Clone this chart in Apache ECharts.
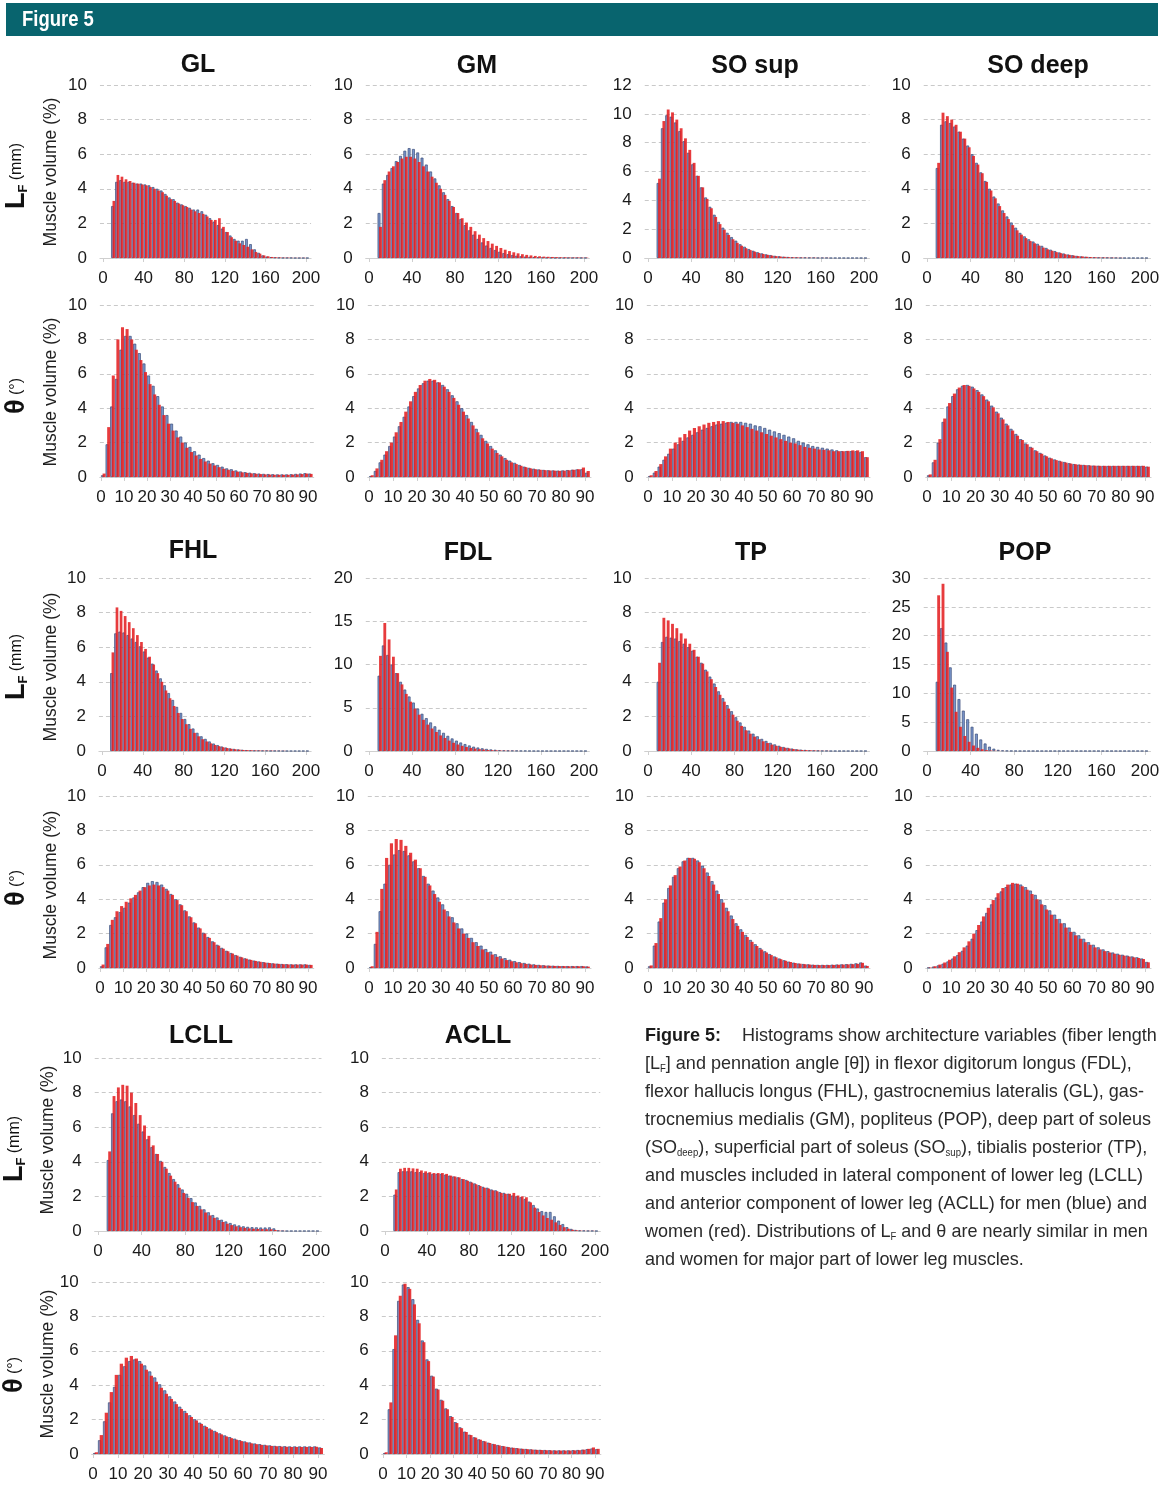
<!DOCTYPE html>
<html><head><meta charset="utf-8">
<script src="https://cdn.jsdelivr.net/npm/echarts@6/dist/echarts.min.js"></script>
<style>html,body{margin:0;padding:0;background:#fff}#c{width:1163px;height:1485px}</style>
</head><body><div id="c"></div><script>
// ---------- DATA ----------
const muscles = ['GL','GM','SO sup','SO deep','FHL','FDL','TP','POP','LCLL','ACLL'];
const lfBins = [10,14,18,22,26,30,34,38,42,46,50,54,58,62,66,70,74,78,82,86,90,94,98,102,106,110,114,118,122,126,130,134,138,142,146,150,154,158,162,166,170,174,178,182,186,190,194,198,202];
const thetaBins = [1,3,5,7,9,11,13,15,17,19,21,23,25,27,29,31,33,35,37,39,41,43,45,47,49,51,53,55,57,59,61,63,65,67,69,71,73,75,77,79,81,83,85,87,89,91];
const lfTicks = [0,40,80,120,160,200];
const thetaTicks = [0,10,20,30,40,50,60,70,80,90];
const lfYMax = [10,10,12,10,10,20,10,30,10,10];
const lfYStep = [2,2,2,2,2,5,2,5,2,2];

const glLfMen = [3.0,4.4,4.5,4.4,4.4,4.35,4.3,4.3,4.25,4.2, 4.1,4.0,3.9,3.7,3.5,3.4,3.2,3.1,3.0,2.9, 2.8,2.8,2.7,2.5,2.3,2.1,1.9,1.7,1.5,1.3, 1.1,1.0,1.0,1.1,0.8,0.5,0.3,0.15,0.08,0.05, 0.03,0.02,0.01,0.01,0.01,0,0,0,0];
const glLfWomen = [3.3,4.8,4.7,4.55,4.45,4.35,4.3,4.25,4.2,4.1, 4.0,3.9,3.8,3.6,3.4,3.3,3.15,3.05,2.95,2.8, 2.7,2.6,2.55,2.4,2.2,2.2,2.3,1.8,1.5,1.2, 1.0,0.85,0.75,0.65,0.5,0.35,0.25,0.15,0.1,0.06, 0.04,0.03,0.02,0.02,0.01,0.01,0.01,0.01,0];
const glThetaMen = [0.1,1.9,4.1,5.7,7.4,8.2,8.2,7.75,7.2,6.6, 5.9,5.3,4.7,4.1,3.6,3.1,2.7,2.35,2.0,1.75, 1.5,1.3,1.1,0.95,0.8,0.7,0.6,0.5,0.45,0.38, 0.32,0.28,0.25,0.22,0.2,0.18,0.17,0.16,0.15,0.15, 0.15,0.16,0.18,0.2,0.22,0.2];
const glThetaWomen = [0.2,2.9,5.9,8.0,8.7,8.6,8.0,7.4,6.8,6.1, 5.4,4.8,4.2,3.6,3.1,2.7,2.3,2.0,1.7,1.45, 1.25,1.05,0.9,0.78,0.67,0.57,0.48,0.42,0.36,0.31, 0.27,0.24,0.21,0.19,0.17,0.15,0.14,0.13,0.13,0.13, 0.13,0.14,0.15,0.17,0.2,0.18];

const gmLfMen = [2.6,4.3,4.8,5.2,5.6,5.9,6.2,6.35,6.3,6.1, 5.8,5.4,5.0,4.6,4.2,3.8,3.4,3.0,2.6,2.25, 1.9,1.6,1.35,1.1,0.9,0.72,0.58,0.46,0.36,0.28, 0.22,0.17,0.13,0.1,0.08,0.06,0.05,0.04,0.03,0.02, 0.02,0.01,0.01,0.01,0.01,0.01,0.01,0.01,0.01];
const gmLfWomen = [1.8,4.5,5.0,5.3,5.55,5.75,5.85,5.85,5.75,5.55, 5.3,5.0,4.7,4.35,4.0,3.65,3.3,2.95,2.6,2.3, 2.05,1.8,1.55,1.35,1.15,0.98,0.83,0.7,0.58,0.48, 0.4,0.33,0.27,0.22,0.18,0.15,0.12,0.1,0.08,0.07, 0.06,0.05,0.04,0.04,0.03,0.03,0.03,0.02,0.02];
const gmThetaMen = [0.05,0.35,0.85,1.3,1.8,2.35,2.95,3.5,4.1,4.7, 5.15,5.45,5.6,5.6,5.5,5.35,5.1,4.75,4.4,4.0, 3.6,3.2,2.8,2.45,2.1,1.8,1.55,1.3,1.1,0.95, 0.82,0.7,0.6,0.53,0.48,0.44,0.41,0.39,0.38,0.37, 0.38,0.4,0.42,0.44,0.45,0.25];
const gmThetaWomen = [0.1,0.5,1.0,1.5,2.0,2.6,3.2,3.8,4.4,4.95, 5.35,5.6,5.7,5.65,5.5,5.25,4.95,4.6,4.2,3.8, 3.4,3.0,2.6,2.25,1.95,1.65,1.4,1.2,1.0,0.85, 0.75,0.65,0.57,0.5,0.45,0.42,0.4,0.38,0.37,0.36, 0.37,0.39,0.42,0.45,0.55,0.35];

const soSupLfMen = [5.2,9.0,9.9,9.8,9.4,8.8,8.1,7.3,6.5,5.7, 4.9,4.2,3.55,3.0,2.5,2.1,1.75,1.45,1.2,0.95, 0.78,0.62,0.5,0.4,0.32,0.25,0.2,0.15,0.12,0.09, 0.07,0.05,0.04,0.03,0.03,0.02,0.02,0.01,0.01,0.01, 0,0,0,0,0,0,0,0,0];
const soSupLfWomen = [5.5,9.5,10.3,10.1,9.6,9.0,8.3,7.5,6.6,5.7, 4.9,4.1,3.45,2.85,2.35,1.95,1.6,1.3,1.05,0.85, 0.68,0.55,0.44,0.35,0.28,0.22,0.17,0.13,0.1,0.08, 0.06,0.05,0.04,0.03,0.02,0.02,0.02,0.01,0.01,0.01, 0,0,0,0,0,0,0,0,0];
const soSupThetaMen = [0.05,0.25,0.6,1.0,1.35,1.65,1.9,2.1,2.3,2.45, 2.6,2.75,2.85,2.95,3.05,3.1,3.15,3.2,3.2,3.2, 3.15,3.1,3.0,2.95,2.85,2.75,2.65,2.55,2.45,2.35, 2.25,2.1,2.0,1.9,1.8,1.75,1.7,1.65,1.6,1.55, 1.5,1.5,1.5,1.5,1.45,1.15];
const soSupThetaWomen = [0.1,0.35,0.75,1.2,1.65,2.0,2.3,2.5,2.7,2.85, 2.95,3.05,3.15,3.2,3.25,3.25,3.2,3.15,3.1,3.0, 2.9,2.8,2.7,2.6,2.5,2.4,2.3,2.2,2.1,2.0, 1.95,1.85,1.75,1.7,1.65,1.6,1.58,1.55,1.5,1.5, 1.5,1.52,1.55,1.55,1.5,1.15];

const soDeepLfMen = [5.2,7.7,7.9,7.8,7.6,7.3,6.9,6.5,6.0,5.5, 4.95,4.45,4.0,3.55,3.15,2.75,2.4,2.05,1.75,1.45, 1.25,1.08,0.95,0.82,0.7,0.58,0.48,0.4,0.32,0.26, 0.2,0.16,0.12,0.09,0.07,0.05,0.04,0.03,0.02,0.02, 0.01,0.01,0,0,0,0,0,0,0];
const soDeepLfWomen = [5.5,8.4,8.2,8.0,7.7,7.3,6.9,6.4,5.9,5.4, 4.9,4.4,3.9,3.45,3.0,2.6,2.25,1.9,1.6,1.35, 1.15,0.98,0.85,0.72,0.6,0.5,0.42,0.34,0.28,0.22, 0.18,0.14,0.11,0.09,0.07,0.05,0.04,0.03,0.03,0.02, 0.02,0.01,0.01,0,0,0,0,0,0];
const soDeepThetaMen = [0.1,0.85,2.0,3.2,4.1,4.7,5.1,5.3,5.35,5.25, 5.05,4.8,4.5,4.15,3.8,3.45,3.1,2.8,2.5,2.2, 1.95,1.75,1.55,1.4,1.25,1.12,1.02,0.94,0.87,0.8, 0.75,0.72,0.7,0.68,0.66,0.65,0.64,0.64,0.64,0.64, 0.64,0.64,0.64,0.64,0.64,0.6];
const soDeepThetaWomen = [0.15,1.0,2.2,3.4,4.3,4.85,5.2,5.35,5.3,5.15, 4.95,4.7,4.4,4.05,3.7,3.35,3.0,2.7,2.4,2.15, 1.9,1.7,1.5,1.35,1.2,1.08,0.98,0.9,0.84,0.78, 0.74,0.71,0.69,0.67,0.66,0.65,0.65,0.65,0.65,0.65, 0.65,0.65,0.65,0.65,0.65,0.6];

const fhlLfMen = [4.5,6.8,6.9,6.85,6.7,6.5,6.3,6.05,5.75,5.4, 5.05,4.65,4.2,3.8,3.35,2.95,2.55,2.2,1.85,1.55, 1.3,1.05,0.85,0.7,0.55,0.43,0.34,0.26,0.2,0.15, 0.12,0.09,0.07,0.05,0.04,0.03,0.03,0.02,0.02,0.01, 0.01,0.01,0,0,0,0,0,0,0];
const fhlLfWomen = [5.7,8.3,8.1,7.8,7.45,7.1,6.7,6.3,5.9,5.45, 5.0,4.5,4.0,3.5,3.05,2.6,2.2,1.85,1.55,1.28, 1.05,0.85,0.68,0.55,0.44,0.35,0.28,0.22,0.17,0.13, 0.1,0.08,0.06,0.05,0.04,0.03,0.03,0.02,0.02,0.02, 0.01,0.01,0.01,0,0,0,0,0,0];
const fhlThetaMen = [0.1,1.2,2.5,2.95,3.25,3.5,3.8,4.1,4.4,4.7, 4.95,5.05,5.0,4.85,4.6,4.3,4.0,3.7,3.35,3.0, 2.65,2.35,2.05,1.8,1.55,1.35,1.17,1.0,0.87,0.75, 0.65,0.56,0.49,0.43,0.38,0.34,0.3,0.27,0.25,0.23, 0.22,0.21,0.21,0.21,0.21,0.18];
const fhlThetaWomen = [0.2,1.4,2.8,3.3,3.6,3.85,4.05,4.25,4.5,4.7, 4.8,4.85,4.8,4.7,4.5,4.25,3.95,3.65,3.3,2.95, 2.6,2.3,2.0,1.75,1.5,1.3,1.12,0.97,0.84,0.72, 0.62,0.54,0.47,0.41,0.36,0.32,0.29,0.26,0.24,0.22, 0.21,0.2,0.2,0.2,0.2,0.18];

const fdlLfMen = [8.7,12.2,11.1,10.0,9.0,8.0,7.1,6.3,5.6,4.9, 4.3,3.8,3.3,2.85,2.45,2.1,1.75,1.45,1.2,0.98, 0.8,0.64,0.5,0.4,0.31,0.24,0.18,0.14,0.1,0.07, 0.05,0.04,0.03,0.02,0.02,0.01,0,0,0,0, 0,0,0,0,0,0,0,0,0];
const fdlLfWomen = [11.0,14.8,12.9,10.9,9.0,7.7,6.6,5.7,4.9,4.2, 3.6,3.05,2.6,2.2,1.8,1.5,1.2,0.95,0.75,0.6, 0.46,0.36,0.28,0.21,0.16,0.12,0.09,0.07,0.05,0.04, 0.03,0.02,0.01,0,0,0,0,0,0,0, 0,0,0,0,0,0,0,0,0];
const fdlThetaMen = [0.05,1.4,3.3,4.9,6.0,6.6,6.85,6.8,6.55,6.2, 5.8,5.35,4.9,4.5,4.1,3.7,3.3,2.95,2.6,2.3, 2.0,1.75,1.5,1.3,1.1,0.95,0.8,0.68,0.57,0.48, 0.4,0.34,0.29,0.25,0.21,0.18,0.16,0.14,0.13,0.12, 0.11,0.11,0.11,0.11,0.11,0.09];
const fdlThetaWomen = [0.1,2.1,4.6,6.4,7.25,7.5,7.45,7.1,6.7,6.3, 5.8,5.3,4.8,4.3,3.85,3.4,3.0,2.65,2.3,2.0, 1.75,1.5,1.28,1.08,0.92,0.78,0.65,0.55,0.46,0.39, 0.33,0.28,0.24,0.2,0.18,0.16,0.14,0.13,0.12,0.11, 0.11,0.1,0.1,0.1,0.1,0.08];

const tpLfMen = [4.0,6.3,6.6,6.55,6.5,6.35,6.2,6.0,5.8,5.45, 5.1,4.7,4.3,3.9,3.45,3.05,2.65,2.3,1.95,1.65, 1.4,1.18,1.0,0.85,0.7,0.58,0.47,0.38,0.3,0.23, 0.18,0.14,0.1,0.08,0.06,0.04,0.03,0.02,0.01,0.01, 0,0,0,0,0,0,0,0,0];
const tpLfWomen = [5.1,7.7,7.55,7.35,7.1,6.8,6.5,6.2,5.85,5.45, 5.05,4.6,4.15,3.7,3.25,2.85,2.45,2.1,1.75,1.45, 1.2,1.0,0.83,0.68,0.56,0.46,0.37,0.3,0.24,0.19, 0.15,0.11,0.08,0.06,0.05,0.04,0.03,0.02,0.01,0.01, 0,0,0,0,0,0,0,0,0];
const tpThetaMen = [0.1,1.3,2.7,3.8,4.65,5.3,5.8,6.2,6.4,6.4, 6.25,5.95,5.55,5.05,4.5,4.0,3.5,3.05,2.6,2.25, 1.92,1.63,1.38,1.16,0.97,0.81,0.67,0.55,0.45,0.37, 0.31,0.26,0.23,0.21,0.19,0.18,0.18,0.18,0.19,0.2, 0.21,0.22,0.24,0.27,0.32,0.14];
const tpThetaWomen = [0.15,1.45,2.9,4.0,4.8,5.4,5.9,6.25,6.4,6.35, 6.15,5.8,5.35,4.85,4.3,3.8,3.3,2.85,2.45,2.1, 1.8,1.52,1.28,1.07,0.9,0.75,0.62,0.51,0.42,0.35, 0.29,0.25,0.22,0.2,0.18,0.17,0.17,0.17,0.18,0.19, 0.2,0.21,0.22,0.24,0.3,0.12];

const popLfMen = [12.0,21.3,18.8,14.5,11.5,9.0,7.0,5.5,4.2,3.0, 2.0,1.3,0.75,0.4,0.2,0.08,0.04,0.02,0.01,0, 0,0,0,0,0,0,0,0,0,0, 0,0,0,0,0,0,0,0,0,0, 0,0,0,0,0,0,0,0,0];
const popLfWomen = [27.0,29.0,17.2,11.0,6.8,4.2,2.6,1.6,0.95,0.55, 0.3,0.15,0.08,0.04,0.02,0.01,0,0,0,0, 0,0,0,0,0,0,0,0,0,0, 0,0,0,0,0,0,0,0,0,0, 0,0,0,0,0,0,0,0,0];
const popThetaMen = [0.02,0.08,0.15,0.25,0.38,0.55,0.75,1.0,1.3,1.7, 2.2,2.7,3.2,3.7,4.1,4.45,4.7,4.85,4.9,4.85, 4.7,4.5,4.25,3.95,3.65,3.35,3.1,2.85,2.6,2.35, 2.1,1.9,1.7,1.5,1.35,1.2,1.08,0.98,0.9,0.83, 0.77,0.72,0.67,0.62,0.55,0.35];
const popThetaWomen = [0.03,0.1,0.2,0.32,0.48,0.68,0.92,1.2,1.55,2.0, 2.5,3.0,3.5,3.95,4.35,4.65,4.85,4.95,4.9,4.75, 4.55,4.3,4.0,3.7,3.4,3.1,2.85,2.6,2.35,2.1, 1.9,1.7,1.5,1.35,1.2,1.08,0.98,0.9,0.83,0.77, 0.72,0.67,0.62,0.58,0.52,0.33];

const lcllLfMen = [4.1,6.8,7.5,7.6,7.5,7.2,6.7,6.2,5.75,5.3, 4.85,4.45,4.05,3.7,3.35,3.0,2.7,2.4,2.15,1.9, 1.65,1.45,1.25,1.08,0.92,0.78,0.65,0.55,0.46,0.38, 0.32,0.27,0.24,0.22,0.21,0.2,0.2,0.21,0.15,0.03, 0.01,0,0,0,0,0,0,0,0];
const lcllLfWomen = [4.6,7.8,8.3,8.45,8.4,8.0,7.4,6.7,6.1,5.5, 4.95,4.45,4.0,3.6,3.2,2.85,2.5,2.2,1.92,1.67, 1.45,1.25,1.07,0.9,0.76,0.63,0.52,0.42,0.34,0.27, 0.22,0.18,0.15,0.13,0.12,0.11,0.1,0.1,0.06,0.02, 0.01,0,0,0,0,0,0,0,0];
const lcllThetaMen = [0.05,0.8,1.9,3.0,3.9,4.6,5.1,5.4,5.5,5.4, 5.15,4.8,4.45,4.05,3.7,3.35,3.05,2.75,2.5,2.25, 2.02,1.82,1.64,1.48,1.34,1.2,1.08,0.98,0.89,0.8, 0.73,0.67,0.61,0.57,0.53,0.5,0.47,0.46,0.45,0.44, 0.44,0.44,0.44,0.44,0.44,0.38];
const lcllThetaWomen = [0.1,1.1,2.4,3.6,4.6,5.25,5.6,5.7,5.55,5.25, 4.9,4.55,4.2,3.85,3.5,3.2,2.9,2.62,2.38,2.15, 1.95,1.75,1.57,1.41,1.27,1.14,1.02,0.92,0.83,0.75, 0.68,0.62,0.57,0.53,0.5,0.47,0.45,0.43,0.42,0.41, 0.41,0.41,0.41,0.41,0.42,0.35];

const acllLfMen = [2.1,3.4,3.45,3.45,3.45,3.4,3.4,3.35,3.35,3.3, 3.3,3.3,3.25,3.2,3.15,3.1,3.0,2.95,2.85,2.75, 2.65,2.55,2.5,2.4,2.35,2.25,2.2,2.15,2.05,2.0, 1.95,1.85,1.7,1.5,1.3,1.15,1.1,1.1,0.85,0.6, 0.4,0.22,0.12,0.06,0.03,0.02,0.01,0.01,0];
const acllLfWomen = [2.4,3.6,3.65,3.65,3.62,3.6,3.5,3.45,3.4,3.35, 3.35,3.35,3.3,3.2,3.15,3.1,3.0,2.9,2.8,2.7, 2.6,2.5,2.45,2.35,2.3,2.2,2.15,2.15,2.2,2.05, 2.0,1.95,1.65,1.35,1.1,0.9,0.75,0.65,0.5,0.35, 0.22,0.13,0.07,0.04,0.02,0.01,0.01,0.01,0];
const acllThetaMen = [0.05,2.6,6.1,8.9,9.85,9.7,9.0,7.8,6.6,5.5, 4.55,3.8,3.15,2.65,2.2,1.85,1.55,1.3,1.12,0.97, 0.85,0.75,0.66,0.58,0.52,0.46,0.41,0.37,0.34,0.31, 0.29,0.27,0.25,0.24,0.23,0.22,0.21,0.21,0.21,0.21, 0.22,0.23,0.25,0.28,0.32,0.28];
const acllThetaWomen = [0.1,3.0,6.9,9.2,9.9,9.6,8.7,7.6,6.5,5.4, 4.5,3.75,3.1,2.6,2.15,1.8,1.5,1.28,1.1,0.95, 0.83,0.73,0.64,0.57,0.5,0.45,0.4,0.36,0.33,0.3, 0.28,0.26,0.24,0.23,0.22,0.21,0.2,0.2,0.2,0.2, 0.21,0.22,0.25,0.3,0.38,0.3];

const lfMen = [glLfMen,gmLfMen,soSupLfMen,soDeepLfMen,fhlLfMen,fdlLfMen,tpLfMen,popLfMen,lcllLfMen,acllLfMen];
const lfWomen = [glLfWomen,gmLfWomen,soSupLfWomen,soDeepLfWomen,fhlLfWomen,fdlLfWomen,tpLfWomen,popLfWomen,lcllLfWomen,acllLfWomen];
const thetaMen = [glThetaMen,gmThetaMen,soSupThetaMen,soDeepThetaMen,fhlThetaMen,fdlThetaMen,tpThetaMen,popThetaMen,lcllThetaMen,acllThetaMen];
const thetaWomen = [glThetaWomen,gmThetaWomen,soSupThetaWomen,soDeepThetaWomen,fhlThetaWomen,fdlThetaWomen,tpThetaWomen,popThetaWomen,lcllThetaWomen,acllThetaWomen];

const captionLines = [
  '{b|Figure 5:}Histograms show architecture variables (fiber length',
  '[L{s|F}] and pennation angle [θ]) in flexor digitorum longus (FDL),',
  'flexor hallucis longus (FHL), gastrocnemius lateralis (GL), gas-',
  'trocnemius medialis (GM), popliteus (POP), deep part of soleus',
  '(SO{s|deep}), superficial part of soleus (SO{s|sup}), tibialis posterior (TP),',
  'and muscles included in lateral component of lower leg (LCLL)',
  'and anterior component of lower leg (ACLL) for men (blue) and',
  'women (red). Distributions of L{s|F} and θ are nearly similar in men',
  'and women for major part of lower leg muscles.'
];

// ---------- LAYOUT ----------
const FONT = "'Liberation Sans', Arial, Helvetica, sans-serif";
const layout = [
  {t:[198,65],  lf:[103,306,85,258],   th:[101,308,305,477]},
  {t:[477,66],  lf:[369,584,85,258],   th:[369,585,305,477]},
  {t:[755,66],  lf:[648,864,85,258],   th:[648,864,305,477]},
  {t:[1038,66], lf:[927,1145,85,258],  th:[927,1145,305,477]},
  {t:[193,551], lf:[102,306,578,751],  th:[100,308,796,968]},
  {t:[468,553], lf:[369,584,578,751],  th:[369,585,796,968]},
  {t:[751,553], lf:[648,864,578,751],  th:[648,864,796,968]},
  {t:[1025,553],lf:[927,1145,578,751], th:[927,1145,796,968]},
  {t:[201,1036],lf:[98,316,1058,1231], th:[93,318,1282,1454]},
  {t:[478,1036],lf:[385,595,1058,1231],th:[383,595,1282,1454]}
];

const grids = [], xAxes = [], yAxes = [], series = [];
function addPanel(g, bins, men, women, ymax, ystep, ticks, span, xmin, xmax) {
  const [x0, x1, top, bottom] = g;
  const s = (x1 - x0) / span;
  const idx = grids.length;
  grids.push({left: x0 + xmin * s, width: (xmax - xmin) * s, top: top, height: bottom - top,
              containLabel: false, outerBoundsMode: 'none'});
  xAxes.push({type: 'value', gridIndex: idx, min: xmin, max: xmax,
    axisLine: {show: true, onZero: true, lineStyle: {color: '#cfcfcf', width: 1}},
    axisTick: {show: true, customValues: ticks, length: 4, lineStyle: {color: '#cfcfcf'}},
    axisLabel: {customValues: ticks, fontSize: 17, color: '#1a1a1a', margin: 12, fontFamily: FONT, hideOverlap: false},
    splitLine: {show: false}});
  yAxes.push({type: 'value', gridIndex: idx, min: 0, max: ymax, interval: ystep,
    axisLine: {show: false}, axisTick: {show: false},
    axisLabel: {fontSize: 17, color: '#1a1a1a', margin: 13, fontFamily: FONT},
    splitLine: {show: true, lineStyle: {type: [4, 3], color: '#c9c9c9', width: 1}}});
  series.push({type: 'bar', name: 'Men', xAxisIndex: idx, yAxisIndex: idx,
    data: bins.map((b, j) => [b, men[j]]), barWidth: '66%', barGap: '-48%',
    itemStyle: {color: '#7a96cc', borderColor: '#3b4e7a', borderWidth: 0.7}, silent: true});
  series.push({type: 'bar', name: 'Women', xAxisIndex: idx, yAxisIndex: idx,
    data: bins.map((b, j) => [b, women[j]]), barWidth: '66%', barGap: '-48%',
    itemStyle: {color: 'rgba(228,32,34,0.88)'}, silent: true});
}

muscles.forEach((m, i) => {
  const L = layout[i];
  addPanel(L.lf, lfBins, lfMen[i], lfWomen[i], lfYMax[i], lfYStep[i], lfTicks, 200, -3, 205);
  addPanel(L.th, thetaBins, thetaMen[i], thetaWomen[i], 10, 2, thetaTicks, 90, -0.5, 92.5);
});

// graphic elements
const g = [];
g.push({type: 'rect', shape: {x: 6, y: 3, width: 1152, height: 33}, style: {fill: '#08646e'}, silent: true});
g.push({type: 'text', x: 22, y: 20, scaleX: 0.84, style: {text: 'Figure 5', fill: '#fff', fontSize: 22, fontWeight: 'bold',
  fontFamily: FONT, align: 'left', verticalAlign: 'middle', textAlign: 'left', textVerticalAlign: 'middle'}});
muscles.forEach((m, i) => {
  g.push({type: 'text', x: layout[i].t[0], y: layout[i].t[1], style: {text: m, fill: '#111', fontSize: 25, fontWeight: 'bold',
    fontFamily: FONT, align: 'center', verticalAlign: 'middle', textAlign: 'center', textVerticalAlign: 'middle'}});
});
function rowLabel(x, y, kind) {
  const txt = kind === 'lf' ? '{L|L}{F|F}{m| (mm)}' : '{L|θ}{m| (°)}';
  g.push({type: 'text', x: x, y: y, rotation: Math.PI / 2, style: {text: txt, fill: '#111', fontFamily: FONT,
    align: 'center', verticalAlign: 'middle', textAlign: 'center', textVerticalAlign: 'middle',
    rich: {L: {fontSize: 27, fontWeight: 'bold', fontFamily: FONT, fill: '#111'},
           F: {fontSize: 13, fontWeight: 'bold', fontFamily: FONT, fill: '#111', padding: [12, 0, 0, 0]},
           m: {fontSize: 16, fontFamily: FONT, fill: '#111'}}}});
}
function volLabel(x, y) {
  g.push({type: 'text', x: x, y: y, rotation: Math.PI / 2, style: {text: 'Muscle volume (%)', fill: '#1e1e1e',
    fontSize: 17.5, fontFamily: FONT, align: 'center', verticalAlign: 'middle', textAlign: 'center', textVerticalAlign: 'middle'}});
}
volLabel(51, 172); volLabel(51, 392); volLabel(51, 667); volLabel(51, 885); volLabel(48, 1140); volLabel(48, 1364);
rowLabel(17, 176, 'lf'); rowLabel(17, 396, 'th'); rowLabel(17, 667, 'lf'); rowLabel(17, 888, 'th');
rowLabel(15, 1149, 'lf'); rowLabel(15, 1375, 'th');

// caption, condensed to the reference line width
const ctx = document.createElement('canvas').getContext('2d');
ctx.font = "19px 'Liberation Sans', Arial, sans-serif";
const capScale = 498 / ctx.measureText('and muscles included in lateral component of lower leg (LCLL)').width;
captionLines.forEach((line, k) => {
  g.push({type: 'text', x: 645, y: 1036 + 28 * k, scaleX: capScale, style: {text: line, fill: '#2a2a2a',
    fontSize: 19, fontFamily: FONT, align: 'left', verticalAlign: 'middle', textAlign: 'left', textVerticalAlign: 'middle',
    rich: {b: {fontSize: 19, fontWeight: 'bold', fontFamily: FONT, fill: '#1a1a1a', padding: [0, 22, 0, 0]},
           s: {fontSize: 10, fontFamily: FONT, fill: '#2a2a2a', padding: [10, 0, 0, 0]}}}});
});

const chart = echarts.init(document.getElementById('c'), null, {renderer: 'canvas', width: 1163, height: 1485});
chart.setOption({
  animation: false,
  backgroundColor: '#ffffff',
  grid: grids, xAxis: xAxes, yAxis: yAxes, series: series,
  graphic: {elements: g}
});
</script></body></html>
